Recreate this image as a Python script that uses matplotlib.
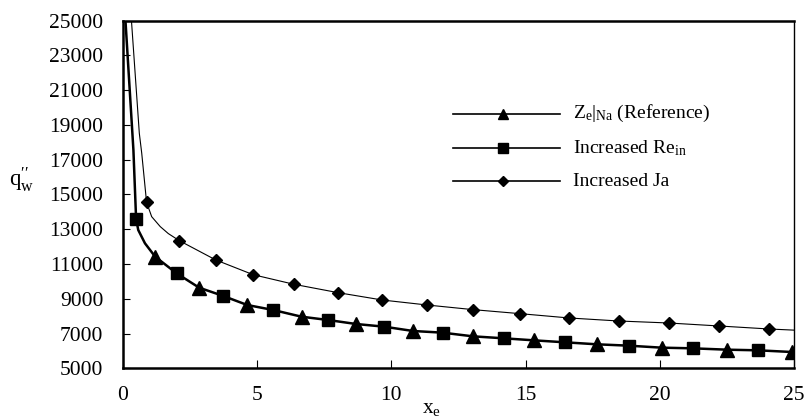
import numpy as np
import matplotlib
matplotlib.use('Agg')
import matplotlib.pyplot as plt
from matplotlib.lines import Line2D

plt.rcParams['font.family'] = ['Liberation Serif', 'DejaVu Serif']
plt.rcParams['mathtext.fontset'] = 'custom'
plt.rcParams['mathtext.rm'] = 'Liberation Serif'
plt.rcParams['mathtext.it'] = 'Liberation Serif:italic'

# marker points of each case
ref_x = [1.21, 2.85, 4.64, 6.66, 8.69, 10.81, 13.04, 15.31, 17.67, 20.07, 22.49, 24.92]
ref_q = [11421, 9637, 8642, 7970, 7550, 7148, 6841, 6611, 6381, 6189, 6074, 5940]

rein_x = [0.50, 2.01, 3.72, 5.61, 7.65, 9.74, 11.91, 14.20, 16.48, 18.84, 21.22, 23.66]
rein_q = [13607, 10463, 9177, 8354, 7780, 7396, 7052, 6726, 6496, 6304, 6151, 6036]

ja_x = [0.89, 2.11, 3.47, 4.86, 6.38, 8.03, 9.67, 11.34, 13.05, 14.79, 16.63, 18.47, 20.33, 22.21, 24.07]
ja_q = [14551, 12342, 11231, 10386, 9833, 9350, 8929, 8642, 8376, 8146, 7896, 7723, 7608, 7436, 7263]

# extra points along the steep start of the curves
base_head_x = [0.08, 0.40, 0.58, 0.83]
base_head_q = [25600, 17560, 12957, 12192]
ja_head_x = [0.30, 0.62, 0.71, 1.08, 1.40, 1.70]
ja_head_q = [25600, 18520, 17370, 13723, 13150, 12750]
ja_end_x = [25.0]
ja_end_q = [7197]

# reference and increased Re_in share one curve
bx = np.array(base_head_x + ref_x + rein_x)
bq = np.array(base_head_q + ref_q + rein_q)
order = np.argsort(bx)
bx, bq = bx[order], bq[order]

jx = np.array(ja_head_x + ja_x + ja_end_x)
jq = np.array(ja_head_q + ja_q + ja_end_q)
order = np.argsort(jx)
jx, jq = jx[order], jq[order]

fig = plt.figure(figsize=(8.07, 4.2), dpi=100)
ax = fig.add_axes([0.152, 0.123, 0.832, 0.828])

ax.plot(bx, bq, color='black', lw=1.8, zorder=2)
ax.plot(jx, jq, color='black', lw=0.8, zorder=2)

ax.plot(ref_x, ref_q, ls='none', marker='^', ms=9.5, color='black', zorder=3)
ax.plot(rein_x, rein_q, ls='none', marker='s', ms=8.5, color='black', zorder=3)
ax.plot(ja_x, ja_q, ls='none', marker='D', ms=6.5, color='black', zorder=3)

ax.set_xlim(0, 25)
ax.set_ylim(5000, 25000)
ax.set_xticks(np.arange(0, 26, 5))
ax.set_yticks(np.arange(5000, 25001, 2000))
ax.tick_params(axis='both', direction='in', labelsize=15.5, width=0.8)
ax.tick_params(axis='y', length=5, pad=14)
ax.tick_params(axis='x', length=6, pad=13)
for side in ['left', 'bottom', 'top']:
    ax.spines[side].set_linewidth(1.8)
ax.spines['right'].set_linewidth(1.0)

# axis labels
fig.text(22 / 807, 1 - 180 / 420, r'q$_\mathrm{w}^{\prime\prime}$', fontsize=16.5,
         ha='center', va='center')
ax.text(11.5, 2700, r'x$_\mathrm{e}$', fontsize=15.5, ha='center', va='center')

# legend
rows = [('^', 9.5, r'Z$_\mathrm{e}|_\mathrm{Na}$ (Reference)'),
        ('s', 8.5, r'Increased Re$_\mathrm{in}$'),
        ('D', 6.0, 'Increased Ja')]
row_y = [0.732, 0.633, 0.538]
for (mk, size, label), yy in zip(rows, row_y):
    ax.add_line(Line2D([0.492, 0.651], [yy, yy], color='black', lw=1.2,
                       transform=ax.transAxes))
    ax.add_line(Line2D([0.567], [yy], marker=mk, ms=size * 0.8, color='black',
                       ls='none', transform=ax.transAxes))
    ax.text(0.670, yy, label, fontsize=14, va='center', ha='left',
            transform=ax.transAxes)

fig.savefig('out.png', dpi=100)
